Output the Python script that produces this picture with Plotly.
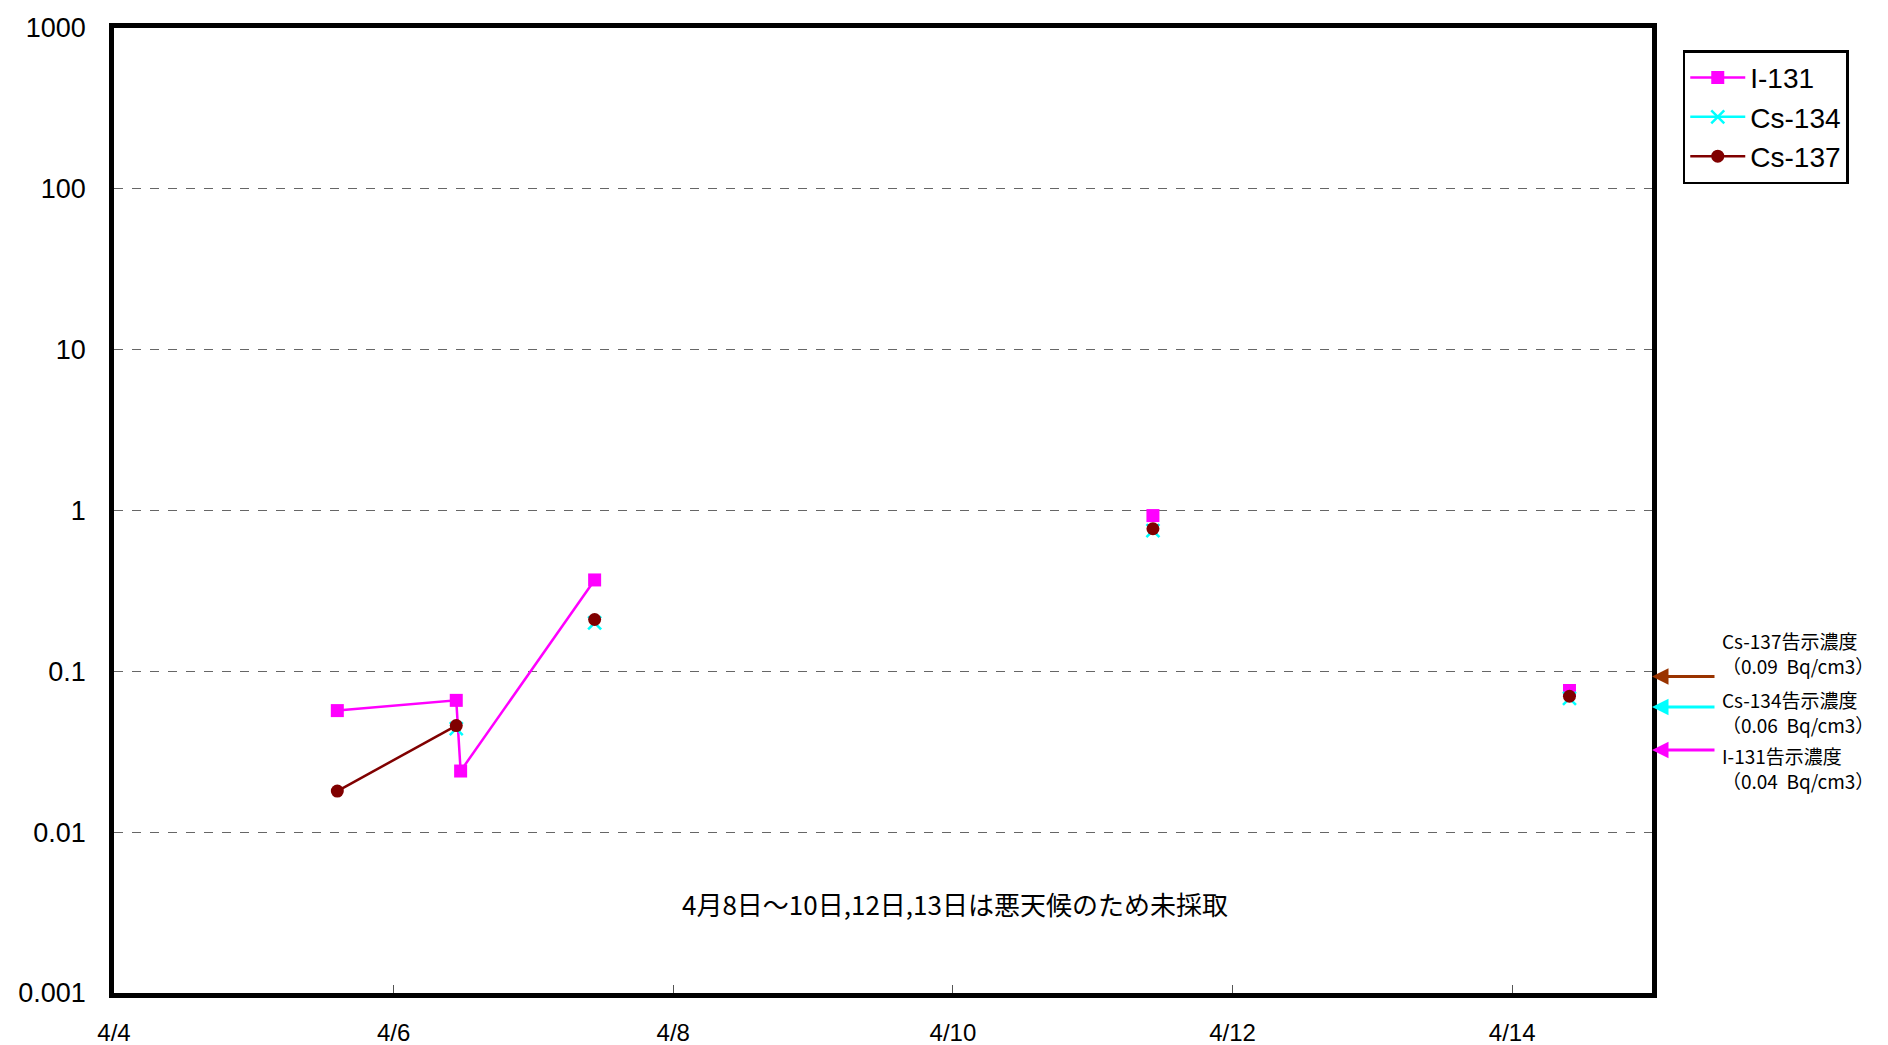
import plotly.graph_objects as go
import math

# ---- data ----
# unsampled days (bad weather) are kept as gaps
sample_times = ["2011-04-05 14:20", "2011-04-06 10:45", "2011-04-06 11:30",
                "2011-04-07 10:30", "2011-04-08 12:00", "2011-04-09 12:00",
                "2011-04-10 12:00", "2011-04-11 10:20", "2011-04-12 12:00",
                "2011-04-13 12:00", "2011-04-14 09:50"]
i131 = [0.057, 0.066, 0.024, 0.37, None, None, None, 0.93, None, None, 0.076]
cs134 = [None, 0.044, None, 0.20, None, None, None, 0.75, None, None, 0.068]
cs137 = [0.018, 0.046, None, 0.21, None, None, None, 0.77, None, None, 0.070]

limit_labels = ["Cs-137告示濃度<br>（0.09\u00a0\u00a0Bq/cm3）",
                "Cs-134告示濃度<br>（0.06\u00a0\u00a0Bq/cm3）",
                "I-131告示濃度<br>（0.04\u00a0\u00a0Bq/cm3）"]
limit_arrow_vals = [0.093, 0.060, 0.0324]
limit_colors = ["#993300", "#00FFFF", "#FF00FF"]

note_text = "4月8日～10日,12日,13日は悪天候のため未採取"
y_ticks = [0.001, 0.01, 0.1, 1, 10, 100, 1000]
y_ticktext = ["0.001", "0.01", "0.1", "1", "10", "100", "1000"]

fig = go.Figure()
fig.add_trace(go.Scatter(x=sample_times, y=i131, name="I-131", mode="lines+markers",
                         line=dict(color="#FF00FF", width=2.5),
                         marker=dict(symbol="square", size=13, color="#FF00FF")))
fig.add_trace(go.Scatter(x=sample_times, y=cs134, name="Cs-134", mode="lines+markers",
                         line=dict(color="#00FFFF", width=2.5),
                         marker=dict(symbol="x-thin", size=13, color="#00FFFF",
                                     line=dict(color="#00FFFF", width=2.5))))
fig.add_trace(go.Scatter(x=sample_times, y=cs137, name="Cs-137", mode="lines+markers",
                         line=dict(color="#800000", width=2.5),
                         marker=dict(symbol="circle", size=13, color="#800000")))

font_jp = "Noto Sans CJK JP"
annotations = [dict(text=note_text, xref="paper", yref="paper", x=0.547, y=0.0715,
                    showarrow=False, font=dict(family=font_jp, size=26, color="black"))]
label_y = [0.352, 0.2917, 0.233]
for txt, val, col, ly in zip(limit_labels, limit_arrow_vals, limit_colors, label_y):
    annotations.append(dict(text="", xref="paper", yref="y", x=1.0, y=math.log10(val),
                            showarrow=True, arrowhead=2, arrowsize=1.1, arrowwidth=3,
                            arrowcolor=col, ax=64, ay=0, standoff=0))
    annotations.append(dict(text=txt, xref="paper", yref="paper", x=1.044, y=ly,
                            xanchor="left", yanchor="middle", align="left", showarrow=False,
                            font=dict(family=font_jp, size=19, color="black")))

fig.update_layout(
    width=1888, height=1045,
    margin=dict(l=106, r=244, t=20, b=60),
    paper_bgcolor="white", plot_bgcolor="white",
    font=dict(family="Liberation Sans, Arial", color="black"),
    showlegend=True,
    legend=dict(x=1.02, y=0.977, xanchor="left", yanchor="top",
                bordercolor="black", borderwidth=2.5, bgcolor="white",
                font=dict(family="Liberation Sans, Arial", size=28),
                itemwidth=55, tracegroupgap=0),
    annotations=annotations,
    xaxis=dict(type="date", range=["2011-04-04", "2011-04-15"],
               tick0="2011-04-04", dtick=172800000, tickformat="%-m/%-d",
               showgrid=False, showline=True, linecolor="black", linewidth=4.5, mirror=True,
               ticks="inside", ticklen=8, tickcolor="#555", tickwidth=1,
               tickfont=dict(size=24), ticklabelstandoff=14, zeroline=False,
               automargin=False),
    yaxis=dict(type="log", range=[-3, 3], tickvals=y_ticks, ticktext=y_ticktext,
               showgrid=True, gridcolor="#666", griddash="dash", gridwidth=1.2,
               showline=True, linecolor="black", linewidth=4.5, mirror=True,
               ticks="", tickfont=dict(size=27), ticklabelstandoff=18, zeroline=False,
               automargin=False),
)
fig.write_html("out.html")
